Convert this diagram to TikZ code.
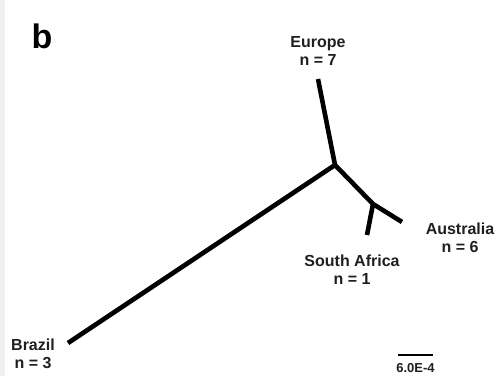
\documentclass[tikz,border=0pt]{standalone}
\usepackage{fontspec}
\setmainfont{Liberation Sans}
\begin{document}
\begin{tikzpicture}[x=1pt,y=-1pt,
  branch/.style={line width=4.6pt,black,line join=round},
  lab/.style={font=\fontsize{16}{17.5}\selectfont\bfseries,text=black!88,align=center,inner sep=0pt},
  scalebar/.style={line width=2pt,black}]
\useasboundingbox (0,0) rectangle (502,376);
\fill[black!6] (0,0) rectangle (5,376);
\node[font=\fontsize{34}{34}\selectfont\bfseries,inner sep=0pt,anchor=base] (panel) at (42,48) {b};
% tree coordinates
\coordinate (center) at (335,165);
\coordinate (sub) at (373,204);
\coordinate (eu) at (318,79);
\coordinate (br) at (68,343);
\coordinate (au) at (402,222);
\coordinate (sa) at (367,235);
\draw[branch] (eu) -- (center) -- (br);
\draw[branch] (center) -- (sub) -- (au);
\draw[branch] (sub) -- (sa);
% labels (base = baseline of last line)
\node[lab,anchor=base] (eul) at (318,65) {Europe\\n = 7};
\node[lab,anchor=base] (aul) at (460,252) {Australia\\n = 6};
\node[lab,anchor=base] (sal) at (352,284) {South Africa\\n = 1};
\node[lab,anchor=base] (brl) at (33,368) {Brazil\\n = 3};
% scale bar
\coordinate (s1) at (398,355);
\coordinate (s2) at (433,355);
\draw[scalebar] (s1) -- (s2);
\node[font=\fontsize{13}{13}\selectfont\bfseries,text=black!88,inner sep=0pt,anchor=base] (sl) at (415.5,372) {6.0E-4};
\end{tikzpicture}
\end{document}
